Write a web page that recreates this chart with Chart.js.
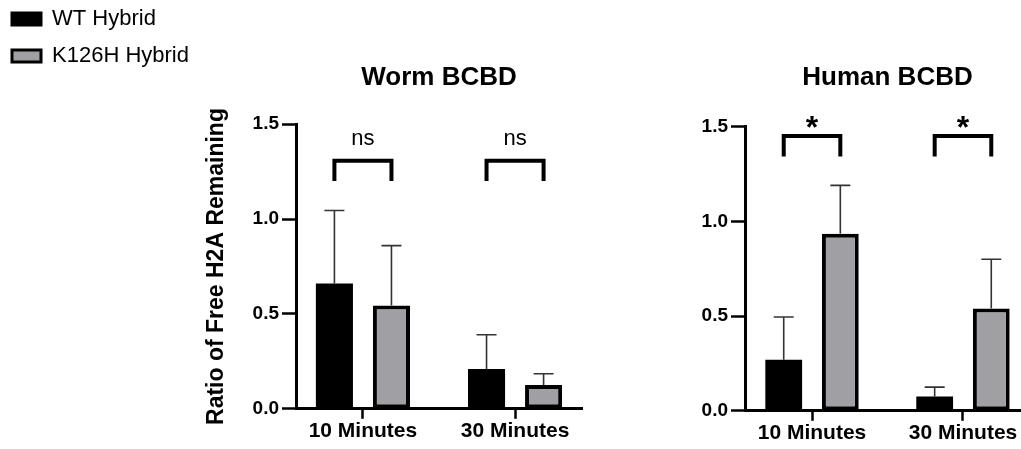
<!DOCTYPE html>
<html>
<head>
<meta charset="utf-8">
<script src="https://cdn.jsdelivr.net/npm/chart.js@4"></script>
<style>
  html, body { margin: 0; padding: 0; background: #fff; width: 1021px; height: 449px; overflow: hidden; }
  #worm { position: absolute; left: -3px; top: -7px; }
  #human { position: absolute; left: 640px; top: 0; }
</style>
</head>
<body>
<canvas id="worm" width="603" height="456"></canvas>
<canvas id="human" width="400" height="449"></canvas>
<script>
// Data
const categories = ['10 Minutes', '30 Minutes'];
const seriesNames = ['WT Hybrid', 'K126H Hybrid'];

const wormWT = [0.66, 0.21];
const wormWTsd = [0.385, 0.18];
const wormK126H = [0.545, 0.125];
const wormK126Hsd = [0.315, 0.06];

const humanWT = [0.27, 0.075];
const humanWTsd = [0.225, 0.05];
const humanK126H = [0.935, 0.54];
const humanK126Hsd = [0.255, 0.26];

const wormSig = ['ns', 'ns'];
const humanSig = ['*', '*'];

let black = '#000';
let grey = '#a0a0a4';
Chart.defaults.font.family = "'Liberation Sans', Arial, sans-serif";
Chart.defaults.color = black;

function bars(label, values, fill, border) {
  return {
    label: label,
    data: values.map((v, i) => ({ x: i + 1, y: v })),
    backgroundColor: fill,
    borderColor: black,
    borderWidth: border,
    borderSkipped: false,
    categoryPercentage: 0.75,
    barPercentage: 0.65,
  };
}

// error bars, brackets and significance marks
const annotate = {
  id: 'annotate',
  afterDatasetsDraw(chart, args, opts) {
    const ctx = chart.ctx;
    const y = chart.scales.y;
    ctx.save();
    ctx.strokeStyle = '#333';
    ctx.lineWidth = 1.6;
    opts.sd.forEach((sd, d) => {
      chart.getDatasetMeta(d).data.forEach((bar, i) => {
        const top = y.getPixelForValue(chart.data.datasets[d].data[i].y + sd[i]);
        ctx.beginPath();
        ctx.moveTo(bar.x, bar.y);
        ctx.lineTo(bar.x, top);
        ctx.moveTo(bar.x - 10, top);
        ctx.lineTo(bar.x + 10, top);
        ctx.stroke();
      });
    });
    const a = chart.getDatasetMeta(0).data;
    const b = chart.getDatasetMeta(1).data;
    const yt = y.getPixelForValue(opts.bracket[0]);
    const yb = y.getPixelForValue(opts.bracket[1]);
    ctx.strokeStyle = black;
    ctx.lineWidth = 4;
    ctx.lineJoin = 'miter';
    ctx.fillStyle = black;
    ctx.font = opts.font;
    ctx.textAlign = 'center';
    ctx.textBaseline = 'alphabetic';
    opts.labels.forEach((txt, i) => {
      const x1 = a[i].x, x2 = b[i].x;
      ctx.beginPath();
      ctx.moveTo(x1, yb);
      ctx.lineTo(x1, yt);
      ctx.lineTo(x2, yt);
      ctx.lineTo(x2, yb);
      ctx.stroke();
      ctx.fillText(txt, (x1 + x2) / 2, y.getPixelForValue(opts.labelY));
    });
    ctx.restore();
  }
};

function xScale(min, max) {
  return {
    type: 'linear',
    min: min,
    max: max,
    offset: false,
    border: { color: black, width: 3 },
    grid: { offset: false, drawOnChartArea: false, tickLength: 10, tickWidth: 2.5, tickColor: black },
    ticks: {
      stepSize: 1,
      includeBounds: false,
      padding: 0,
      font: { size: 21, weight: 'bold' },
      callback: v => categories[v - 1],
    },
  };
}

function yScale(width, title) {
  return {
    min: 0,
    max: 1.5,
    border: { color: black, width: 3 },
    grid: { drawOnChartArea: false, tickLength: 14, tickWidth: 2.5, tickColor: black },
    ticks: {
      stepSize: 0.5,
      padding: 3,
      font: { size: 19, weight: 'bold' },
      callback: v => v.toFixed(1),
    },
    title: title,
    afterFit: width,
  };
}

new Chart(document.getElementById('worm'), {
  type: 'bar',
  data: {
    datasets: [bars(seriesNames[0], wormWT, black, 0), bars(seriesNames[1], wormK126H, grey, 4)]
  },
  options: {
    responsive: false,
    animation: false,
    layout: { padding: { left: 0, right: 18, top: 0, bottom: 5 } },
    scales: {
      x: xScale(0.56, 2.44),
      y: yScale(s => { s.width = 299 - s.chart.legend.width; }, {
        display: true,
        text: 'Ratio of Free H2A Remaining',
        font: { size: 23, weight: 'bold' },
        padding: { top: 4, bottom: 0 },
      }),
    },
    plugins: {
      legend: {
        position: 'left',
        align: 'start',
        maxWidth: 260,
        labels: {
          boxWidth: 29,
          boxHeight: 12,
          padding: 15,
          font: { size: 22 },
          generateLabels(chart) {
            return Chart.defaults.plugins.legend.labels.generateLabels(chart)
              .map(item => Object.assign(item, { lineWidth: 3 }));
          },
        },
      },
      title: {
        display: true,
        text: 'Worm BCBD',
        fullSize: false,
        font: { size: 26, weight: 'bold' },
        padding: { top: 69, bottom: 31 },
      },
      tooltip: { enabled: false },
      annotate: {
        sd: [wormWTsd, wormK126Hsd],
        labels: wormSig,
        bracket: [1.308, 1.2],
        labelY: 1.391,
        font: "22px 'Liberation Sans', Arial, sans-serif",
      },
    },
  },
  plugins: [annotate],
});

new Chart(document.getElementById('human'), {
  type: 'bar',
  data: {
    datasets: [bars(seriesNames[0], humanWT, black, 0), bars(seriesNames[1], humanK126H, grey, 4)]
  },
  options: {
    responsive: false,
    animation: false,
    layout: { padding: { left: 0, right: 10, top: 0, bottom: 3 } },
    scales: {
      x: xScale(0.556, 2.444),
      y: yScale(s => { s.width = 105; }, { display: false }),
    },
    plugins: {
      legend: { display: false },
      title: {
        display: true,
        text: 'Human BCBD',
        fullSize: false,
        font: { size: 26, weight: 'bold' },
        padding: { top: 62, bottom: 33.5 },
      },
      tooltip: { enabled: false },
      annotate: {
        sd: [humanWTsd, humanK126Hsd],
        labels: humanSig,
        bracket: [1.451, 1.343],
        labelY: 1.44,
        font: "bold 32px 'Liberation Sans', Arial, sans-serif",
      },
    },
  },
  plugins: [annotate],
});
</script>
</body>
</html>
